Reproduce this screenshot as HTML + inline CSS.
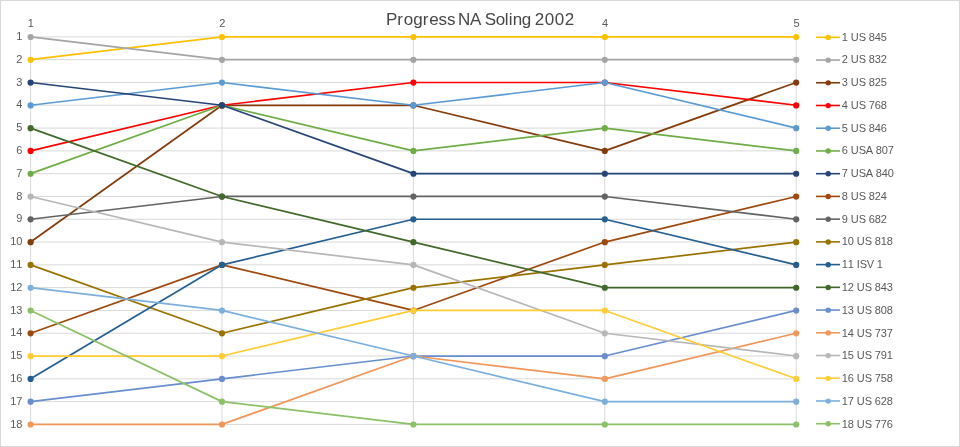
<!DOCTYPE html>
<html><head><meta charset="utf-8"><style>
html,body{margin:0;padding:0;background:#fff;}
svg{display:block;will-change:transform;}
text{font-family:"Liberation Sans",Arial,sans-serif;}
</style></head><body>
<svg width="960" height="447" viewBox="0 0 960 447">
<rect x="0.5" y="0.5" width="959" height="446" fill="#fff" stroke="#D9D9D9" stroke-width="1"/>
<g stroke="#D9D9D9" stroke-width="1" fill="none">
<path d="M30.10 36.90H796.70"/>
<path d="M30.10 59.70H796.70"/>
<path d="M30.10 82.49H796.70"/>
<path d="M30.10 105.28H796.70"/>
<path d="M30.10 128.08H796.70"/>
<path d="M30.10 150.88H796.70"/>
<path d="M30.10 173.67H796.70"/>
<path d="M30.10 196.47H796.70"/>
<path d="M30.10 219.26H796.70"/>
<path d="M30.10 242.06H796.70"/>
<path d="M30.10 264.85H796.70"/>
<path d="M30.10 287.64H796.70"/>
<path d="M30.10 310.44H796.70"/>
<path d="M30.10 333.24H796.70"/>
<path d="M30.10 356.03H796.70"/>
<path d="M30.10 378.82H796.70"/>
<path d="M30.10 401.62H796.70"/>
<path d="M30.10 424.42H796.70"/>
<path d="M30.60 36.90V424.42"/>
<path d="M222.00 36.90V424.42"/>
<path d="M413.40 36.90V424.42"/>
<path d="M604.80 36.90V424.42"/>
<path d="M796.20 36.90V424.42"/>
</g>
<g fill="none" stroke-width="1.7" stroke-linejoin="round" stroke-linecap="round">
<polyline points="30.6,59.70 222.0,36.90 413.4,36.90 604.8,36.90 796.2,36.90" stroke="#FFC000"/>
<circle cx="30.6" cy="59.80" r="3.1" fill="#FFC000"/>
<circle cx="222.0" cy="37.00" r="3.1" fill="#FFC000"/>
<circle cx="413.4" cy="37.00" r="3.1" fill="#FFC000"/>
<circle cx="604.8" cy="37.00" r="3.1" fill="#FFC000"/>
<circle cx="796.2" cy="37.00" r="3.1" fill="#FFC000"/>
<polyline points="30.6,36.90 222.0,59.70 413.4,59.70 604.8,59.70 796.2,59.70" stroke="#A5A5A5"/>
<circle cx="30.6" cy="37.00" r="3.1" fill="#A5A5A5"/>
<circle cx="222.0" cy="59.80" r="3.1" fill="#A5A5A5"/>
<circle cx="413.4" cy="59.80" r="3.1" fill="#A5A5A5"/>
<circle cx="604.8" cy="59.80" r="3.1" fill="#A5A5A5"/>
<circle cx="796.2" cy="59.80" r="3.1" fill="#A5A5A5"/>
<polyline points="30.6,242.06 222.0,105.28 413.4,105.28 604.8,150.88 796.2,82.49" stroke="#843C0C"/>
<circle cx="30.6" cy="242.16" r="3.1" fill="#843C0C"/>
<circle cx="222.0" cy="105.38" r="3.1" fill="#843C0C"/>
<circle cx="413.4" cy="105.38" r="3.1" fill="#843C0C"/>
<circle cx="604.8" cy="150.97" r="3.1" fill="#843C0C"/>
<circle cx="796.2" cy="82.59" r="3.1" fill="#843C0C"/>
<polyline points="30.6,150.88 222.0,105.28 413.4,82.49 604.8,82.49 796.2,105.28" stroke="#FF0000"/>
<circle cx="30.6" cy="150.97" r="3.1" fill="#FF0000"/>
<circle cx="222.0" cy="105.38" r="3.1" fill="#FF0000"/>
<circle cx="413.4" cy="82.59" r="3.1" fill="#FF0000"/>
<circle cx="604.8" cy="82.59" r="3.1" fill="#FF0000"/>
<circle cx="796.2" cy="105.38" r="3.1" fill="#FF0000"/>
<polyline points="30.6,105.28 222.0,82.49 413.4,105.28 604.8,82.49 796.2,128.08" stroke="#5B9BD5"/>
<circle cx="30.6" cy="105.38" r="3.1" fill="#5B9BD5"/>
<circle cx="222.0" cy="82.59" r="3.1" fill="#5B9BD5"/>
<circle cx="413.4" cy="105.38" r="3.1" fill="#5B9BD5"/>
<circle cx="604.8" cy="82.59" r="3.1" fill="#5B9BD5"/>
<circle cx="796.2" cy="128.18" r="3.1" fill="#5B9BD5"/>
<polyline points="30.6,173.67 222.0,105.28 413.4,150.88 604.8,128.08 796.2,150.88" stroke="#70AD47"/>
<circle cx="30.6" cy="173.77" r="3.1" fill="#70AD47"/>
<circle cx="222.0" cy="105.38" r="3.1" fill="#70AD47"/>
<circle cx="413.4" cy="150.97" r="3.1" fill="#70AD47"/>
<circle cx="604.8" cy="128.18" r="3.1" fill="#70AD47"/>
<circle cx="796.2" cy="150.97" r="3.1" fill="#70AD47"/>
<polyline points="30.6,82.49 222.0,105.28 413.4,173.67 604.8,173.67 796.2,173.67" stroke="#264478"/>
<circle cx="30.6" cy="82.59" r="3.1" fill="#264478"/>
<circle cx="222.0" cy="105.38" r="3.1" fill="#264478"/>
<circle cx="413.4" cy="173.77" r="3.1" fill="#264478"/>
<circle cx="604.8" cy="173.77" r="3.1" fill="#264478"/>
<circle cx="796.2" cy="173.77" r="3.1" fill="#264478"/>
<polyline points="30.6,333.24 222.0,264.85 413.4,310.44 604.8,242.06 796.2,196.47" stroke="#9E480E"/>
<circle cx="30.6" cy="333.34" r="3.1" fill="#9E480E"/>
<circle cx="222.0" cy="264.95" r="3.1" fill="#9E480E"/>
<circle cx="413.4" cy="310.54" r="3.1" fill="#9E480E"/>
<circle cx="604.8" cy="242.16" r="3.1" fill="#9E480E"/>
<circle cx="796.2" cy="196.56" r="3.1" fill="#9E480E"/>
<polyline points="30.6,219.26 222.0,196.47 413.4,196.47 604.8,196.47 796.2,219.26" stroke="#636363"/>
<circle cx="30.6" cy="219.36" r="3.1" fill="#636363"/>
<circle cx="222.0" cy="196.56" r="3.1" fill="#636363"/>
<circle cx="413.4" cy="196.56" r="3.1" fill="#636363"/>
<circle cx="604.8" cy="196.56" r="3.1" fill="#636363"/>
<circle cx="796.2" cy="219.36" r="3.1" fill="#636363"/>
<polyline points="30.6,264.85 222.0,333.24 413.4,287.64 604.8,264.85 796.2,242.06" stroke="#997300"/>
<circle cx="30.6" cy="264.95" r="3.1" fill="#997300"/>
<circle cx="222.0" cy="333.34" r="3.1" fill="#997300"/>
<circle cx="413.4" cy="287.75" r="3.1" fill="#997300"/>
<circle cx="604.8" cy="264.95" r="3.1" fill="#997300"/>
<circle cx="796.2" cy="242.16" r="3.1" fill="#997300"/>
<polyline points="30.6,378.82 222.0,264.85 413.4,219.26 604.8,219.26 796.2,264.85" stroke="#255E91"/>
<circle cx="30.6" cy="378.93" r="3.1" fill="#255E91"/>
<circle cx="222.0" cy="264.95" r="3.1" fill="#255E91"/>
<circle cx="413.4" cy="219.36" r="3.1" fill="#255E91"/>
<circle cx="604.8" cy="219.36" r="3.1" fill="#255E91"/>
<circle cx="796.2" cy="264.95" r="3.1" fill="#255E91"/>
<polyline points="30.6,128.08 222.0,196.47 413.4,242.06 604.8,287.64 796.2,287.64" stroke="#43682B"/>
<circle cx="30.6" cy="128.18" r="3.1" fill="#43682B"/>
<circle cx="222.0" cy="196.56" r="3.1" fill="#43682B"/>
<circle cx="413.4" cy="242.16" r="3.1" fill="#43682B"/>
<circle cx="604.8" cy="287.75" r="3.1" fill="#43682B"/>
<circle cx="796.2" cy="287.75" r="3.1" fill="#43682B"/>
<polyline points="30.6,401.62 222.0,378.82 413.4,356.03 604.8,356.03 796.2,310.44" stroke="#698ED0"/>
<circle cx="30.6" cy="401.72" r="3.1" fill="#698ED0"/>
<circle cx="222.0" cy="378.93" r="3.1" fill="#698ED0"/>
<circle cx="413.4" cy="356.13" r="3.1" fill="#698ED0"/>
<circle cx="604.8" cy="356.13" r="3.1" fill="#698ED0"/>
<circle cx="796.2" cy="310.54" r="3.1" fill="#698ED0"/>
<polyline points="30.6,424.42 222.0,424.42 413.4,356.03 604.8,378.82 796.2,333.24" stroke="#F1975A"/>
<circle cx="30.6" cy="424.52" r="3.1" fill="#F1975A"/>
<circle cx="222.0" cy="424.52" r="3.1" fill="#F1975A"/>
<circle cx="413.4" cy="356.13" r="3.1" fill="#F1975A"/>
<circle cx="604.8" cy="378.93" r="3.1" fill="#F1975A"/>
<circle cx="796.2" cy="333.34" r="3.1" fill="#F1975A"/>
<polyline points="30.6,196.47 222.0,242.06 413.4,264.85 604.8,333.24 796.2,356.03" stroke="#B7B7B7"/>
<circle cx="30.6" cy="196.56" r="3.1" fill="#B7B7B7"/>
<circle cx="222.0" cy="242.16" r="3.1" fill="#B7B7B7"/>
<circle cx="413.4" cy="264.95" r="3.1" fill="#B7B7B7"/>
<circle cx="604.8" cy="333.34" r="3.1" fill="#B7B7B7"/>
<circle cx="796.2" cy="356.13" r="3.1" fill="#B7B7B7"/>
<polyline points="30.6,356.03 222.0,356.03 413.4,310.44 604.8,310.44 796.2,378.82" stroke="#FFCD33"/>
<circle cx="30.6" cy="356.13" r="3.1" fill="#FFCD33"/>
<circle cx="222.0" cy="356.13" r="3.1" fill="#FFCD33"/>
<circle cx="413.4" cy="310.54" r="3.1" fill="#FFCD33"/>
<circle cx="604.8" cy="310.54" r="3.1" fill="#FFCD33"/>
<circle cx="796.2" cy="378.93" r="3.1" fill="#FFCD33"/>
<polyline points="30.6,287.64 222.0,310.44 413.4,356.03 604.8,401.62 796.2,401.62" stroke="#7CAFDD"/>
<circle cx="30.6" cy="287.75" r="3.1" fill="#7CAFDD"/>
<circle cx="222.0" cy="310.54" r="3.1" fill="#7CAFDD"/>
<circle cx="413.4" cy="356.13" r="3.1" fill="#7CAFDD"/>
<circle cx="604.8" cy="401.72" r="3.1" fill="#7CAFDD"/>
<circle cx="796.2" cy="401.72" r="3.1" fill="#7CAFDD"/>
<polyline points="30.6,310.44 222.0,401.62 413.4,424.42 604.8,424.42 796.2,424.42" stroke="#8CC168"/>
<circle cx="30.6" cy="310.54" r="3.1" fill="#8CC168"/>
<circle cx="222.0" cy="401.72" r="3.1" fill="#8CC168"/>
<circle cx="413.4" cy="424.52" r="3.1" fill="#8CC168"/>
<circle cx="604.8" cy="424.52" r="3.1" fill="#8CC168"/>
<circle cx="796.2" cy="424.52" r="3.1" fill="#8CC168"/>
</g>
<g font-size="11" fill="#595959">
<text x="16.20" y="40.05">1</text>
<text x="16.20" y="62.84">2</text>
<text x="16.20" y="85.64">3</text>
<text x="16.20" y="108.44">4</text>
<text x="16.20" y="131.23">5</text>
<text x="16.20" y="154.03">6</text>
<text x="16.20" y="176.82">7</text>
<text x="16.20" y="199.62">8</text>
<text x="16.20" y="222.41">9</text>
<text x="10.20 16.20" y="245.21">10</text>
<text x="10.20 16.20" y="268.00">11</text>
<text x="10.20 16.20" y="290.79">12</text>
<text x="10.20 16.20" y="313.59">13</text>
<text x="10.20 16.20" y="336.38">14</text>
<text x="10.20 16.20" y="359.18">15</text>
<text x="10.20 16.20" y="381.97">16</text>
<text x="10.20 16.20" y="404.77">17</text>
<text x="10.20 16.20" y="427.56">18</text>
<text x="27.80" y="27.30">1</text>
<text x="219.20" y="27.30">2</text>
<text x="410.60" y="27.30">3</text>
<text x="602.00" y="27.30">4</text>
<text x="793.40" y="27.30">5</text>
</g>
<g font-size="11" stroke-width="1.6" fill="#595959">
<line x1="816" y1="37.30" x2="840" y2="37.30" stroke="#FFC000"/>
<circle cx="828.2" cy="37.40" r="2.7" fill="#FFC000" stroke="none"/>
<text x="841.80 847.80 850.80 858.80 865.80 868.80 874.80 880.80" y="40.55">1 US 845</text>
<line x1="816" y1="60.03" x2="840" y2="60.03" stroke="#A5A5A5"/>
<circle cx="828.2" cy="60.13" r="2.7" fill="#A5A5A5" stroke="none"/>
<text x="841.80 847.80 850.80 858.80 865.80 868.80 874.80 880.80" y="63.32">2 US 832</text>
<line x1="816" y1="82.76" x2="840" y2="82.76" stroke="#843C0C"/>
<circle cx="828.2" cy="82.86" r="2.7" fill="#843C0C" stroke="none"/>
<text x="841.80 847.80 850.80 858.80 865.80 868.80 874.80 880.80" y="86.09">3 US 825</text>
<line x1="816" y1="105.49" x2="840" y2="105.49" stroke="#FF0000"/>
<circle cx="828.2" cy="105.59" r="2.7" fill="#FF0000" stroke="none"/>
<text x="841.80 847.80 850.80 858.80 865.80 868.80 874.80 880.80" y="108.86">4 US 768</text>
<line x1="816" y1="128.22" x2="840" y2="128.22" stroke="#5B9BD5"/>
<circle cx="828.2" cy="128.32" r="2.7" fill="#5B9BD5" stroke="none"/>
<text x="841.80 847.80 850.80 858.80 865.80 868.80 874.80 880.80" y="131.63">5 US 846</text>
<line x1="816" y1="150.95" x2="840" y2="150.95" stroke="#70AD47"/>
<circle cx="828.2" cy="151.05" r="2.7" fill="#70AD47" stroke="none"/>
<text x="841.80 847.80 850.80 858.80 865.80 872.80 875.80 881.80 887.80" y="154.40">6 USA 807</text>
<line x1="816" y1="173.68" x2="840" y2="173.68" stroke="#264478"/>
<circle cx="828.2" cy="173.78" r="2.7" fill="#264478" stroke="none"/>
<text x="841.80 847.80 850.80 858.80 865.80 872.80 875.80 881.80 887.80" y="177.17">7 USA 840</text>
<line x1="816" y1="196.41" x2="840" y2="196.41" stroke="#9E480E"/>
<circle cx="828.2" cy="196.51" r="2.7" fill="#9E480E" stroke="none"/>
<text x="841.80 847.80 850.80 858.80 865.80 868.80 874.80 880.80" y="199.94">8 US 824</text>
<line x1="816" y1="219.14" x2="840" y2="219.14" stroke="#636363"/>
<circle cx="828.2" cy="219.24" r="2.7" fill="#636363" stroke="none"/>
<text x="841.80 847.80 850.80 858.80 865.80 868.80 874.80 880.80" y="222.71">9 US 682</text>
<line x1="816" y1="241.87" x2="840" y2="241.87" stroke="#997300"/>
<circle cx="828.2" cy="241.97" r="2.7" fill="#997300" stroke="none"/>
<text x="841.80 847.80 853.80 856.80 864.80 871.80 874.80 880.80 886.80" y="245.48">10 US 818</text>
<line x1="816" y1="264.60" x2="840" y2="264.60" stroke="#255E91"/>
<circle cx="828.2" cy="264.70" r="2.7" fill="#255E91" stroke="none"/>
<text x="841.80 847.80 853.80 856.80 859.80 866.80 873.80 876.80" y="268.25">11 ISV 1</text>
<line x1="816" y1="287.33" x2="840" y2="287.33" stroke="#43682B"/>
<circle cx="828.2" cy="287.43" r="2.7" fill="#43682B" stroke="none"/>
<text x="841.80 847.80 853.80 856.80 864.80 871.80 874.80 880.80 886.80" y="291.02">12 US 843</text>
<line x1="816" y1="310.06" x2="840" y2="310.06" stroke="#698ED0"/>
<circle cx="828.2" cy="310.16" r="2.7" fill="#698ED0" stroke="none"/>
<text x="841.80 847.80 853.80 856.80 864.80 871.80 874.80 880.80 886.80" y="313.79">13 US 808</text>
<line x1="816" y1="332.79" x2="840" y2="332.79" stroke="#F1975A"/>
<circle cx="828.2" cy="332.89" r="2.7" fill="#F1975A" stroke="none"/>
<text x="841.80 847.80 853.80 856.80 864.80 871.80 874.80 880.80 886.80" y="336.56">14 US 737</text>
<line x1="816" y1="355.52" x2="840" y2="355.52" stroke="#B7B7B7"/>
<circle cx="828.2" cy="355.62" r="2.7" fill="#B7B7B7" stroke="none"/>
<text x="841.80 847.80 853.80 856.80 864.80 871.80 874.80 880.80 886.80" y="359.33">15 US 791</text>
<line x1="816" y1="378.25" x2="840" y2="378.25" stroke="#FFCD33"/>
<circle cx="828.2" cy="378.35" r="2.7" fill="#FFCD33" stroke="none"/>
<text x="841.80 847.80 853.80 856.80 864.80 871.80 874.80 880.80 886.80" y="382.10">16 US 758</text>
<line x1="816" y1="400.98" x2="840" y2="400.98" stroke="#7CAFDD"/>
<circle cx="828.2" cy="401.08" r="2.7" fill="#7CAFDD" stroke="none"/>
<text x="841.80 847.80 853.80 856.80 864.80 871.80 874.80 880.80 886.80" y="404.87">17 US 628</text>
<line x1="816" y1="423.71" x2="840" y2="423.71" stroke="#8CC168"/>
<circle cx="828.2" cy="423.81" r="2.7" fill="#8CC168" stroke="none"/>
<text x="841.80 847.80 853.80 856.80 864.80 871.80 874.80 880.80 886.80" y="427.64">18 US 776</text>
</g>
<rect x="383" y="8" width="195" height="22" fill="#fff"/>
<g font-size="17" fill="#474747">
<text x="385.91 397.36 403.81 413.26 422.71 429.16 438.61 447.06 455.51 458.11 470.11 481.11 484.63 495.63 504.63 508.63 512.63 521.63 530.63 534.85 544.85 554.85 564.85" y="25.00">Progress NA Soling 2002</text>
</g>
</svg>
</body></html>
